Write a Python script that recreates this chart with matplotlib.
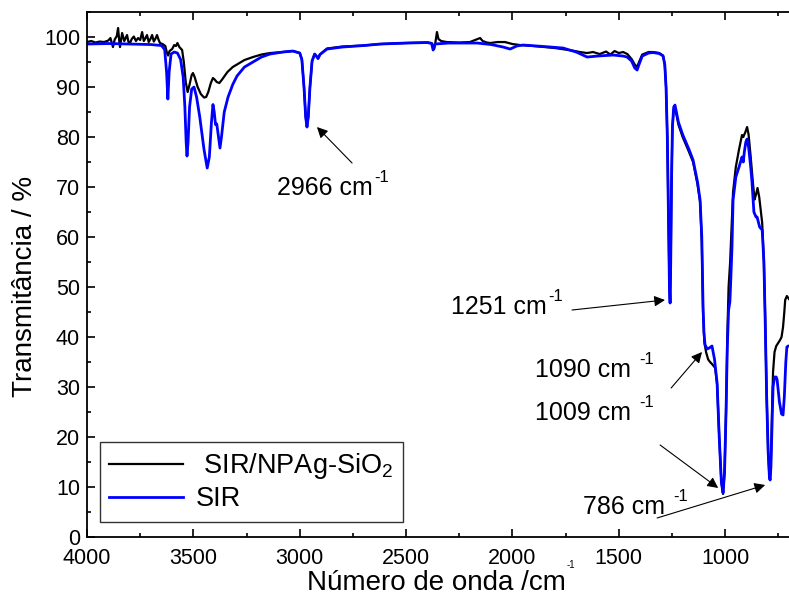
import matplotlib
matplotlib.use("Agg")
import matplotlib.pyplot as plt
from matplotlib.ticker import MultipleLocator

plt.rcParams['font.family'] = ['Liberation Sans', 'DejaVu Sans']
plt.rcParams['mathtext.fontset'] = 'custom'
plt.rcParams['mathtext.rm'] = 'Liberation Sans'
plt.rcParams['mathtext.it'] = 'Liberation Sans:italic'

# espectro SIR/NPAg-SiO2 (preto)
black_wn = [4000, 3980, 3960, 3940, 3920, 3900, 3890, 3878, 3870, 3860, 3854, 3848, 3845, 3835,
            3825, 3812, 3805, 3798, 3790, 3780, 3770, 3760, 3750, 3741, 3733, 3725, 3718, 3710,
            3702, 3694, 3686, 3678, 3671, 3664, 3657, 3645, 3632, 3624, 3619, 3612, 3600, 3590,
            3582, 3575, 3566, 3553, 3545, 3536, 3527, 3518, 3508, 3502, 3494, 3480, 3465, 3450,
            3440, 3430, 3418, 3408, 3400, 3390, 3378, 3365, 3340, 3315, 3295, 3260, 3220, 3180,
            3140, 3080, 3032, 3000, 2990, 2980, 2972, 2966, 2960, 2952, 2942, 2930, 2922, 2914,
            2905, 2872, 2800, 2700, 2622, 2500, 2400, 2380, 2368, 2362, 2355, 2348, 2335, 2310,
            2250, 2200, 2165, 2152, 2140, 2120, 2105, 2070, 2035, 2000, 1964, 1900, 1800, 1720,
            1682, 1650, 1621, 1590, 1560, 1540, 1520, 1500, 1480, 1460, 1440, 1425, 1414, 1405,
            1390, 1360, 1339, 1310, 1292, 1284, 1278, 1272, 1266, 1262, 1259, 1256, 1252, 1248,
            1242, 1236, 1220, 1200, 1170, 1151, 1130, 1118, 1110, 1104, 1098, 1090, 1080, 1071,
            1060, 1047, 1038, 1028, 1018, 1010, 1003, 996, 990, 984, 977, 970, 963, 950, 935,
            921, 915, 905, 897, 890, 880, 870, 862, 855, 848, 840, 832, 826, 818, 812, 805, 798,
            792, 789, 785, 780, 775, 768, 760, 751, 742, 735, 728, 722, 718, 710, 700]
black_t = [99.0, 99.2, 98.9, 99.1, 99.0, 99.3, 99.8, 98.0, 99.5, 100.2, 101.8, 99.0, 98.0, 100.8,
           99.2, 100.4, 99.0, 98.8, 99.6, 100.1, 99.2, 99.8, 99.4, 101.0, 99.2, 99.8, 100.4, 99.0,
           99.6, 100.4, 99.1, 99.7, 100.4, 99.5, 98.8, 98.6, 98.2, 96.8, 96.3, 97.2, 97.6, 98.4,
           98.2, 98.8, 98.0, 97.4, 95.0, 91.0, 89.0, 90.5, 92.4, 92.8, 92.0, 90.0, 88.6, 87.9,
           88.0, 89.0, 90.8, 91.8, 91.5, 91.0, 90.8, 91.5, 93.0, 94.0, 94.5, 95.4, 96.0, 96.5,
           96.8, 97.0, 97.2, 96.8, 95.5, 90.0, 84.0, 82.0, 84.0, 90.0, 95.2, 96.6, 96.2, 95.7,
           96.5, 97.7, 98.1, 98.3, 98.6, 98.8, 98.9, 98.8, 97.6, 99.0, 101.0, 99.6, 99.2, 99.0,
           98.9, 99.0, 99.6, 99.8, 99.2, 98.9, 98.8, 99.0, 99.0, 98.6, 98.4, 98.2, 97.8, 97.3,
           97.0, 96.8, 97.0, 96.6, 97.1, 96.5, 97.2, 96.8, 97.0, 96.6, 95.6, 94.5, 94.0, 95.0,
           96.5, 97.0, 97.0, 96.8, 96.3, 94.5, 90.0, 80.0, 62.0, 50.0, 46.8, 55.0, 72.0, 82.0,
           85.5, 86.0, 82.5, 80.0, 77.0, 75.0, 70.5, 67.0, 59.0, 45.0, 39.0, 37.0, 35.5, 35.0,
           34.5, 33.8, 30.5, 20.0, 11.0, 8.6, 13.0, 25.0, 40.0, 50.0, 54.8, 62.0, 69.0, 74.0, 77.5,
           80.4, 80.0, 81.0, 82.0, 80.5, 76.0, 71.0, 67.5, 68.5, 69.8, 68.0, 65.0, 62.8, 55.0, 44.0,
           28.0, 17.0, 12.0, 11.4, 15.0, 25.0, 33.0, 37.0, 38.2, 38.8, 39.4, 40.0, 42.0, 45.0,
           47.4, 48.2, 47.6]

# espectro SIR (azul)
blue_wn = [4000, 3900, 3800, 3700, 3650, 3635, 3626, 3620, 3614, 3605, 3590, 3575, 3560, 3548,
           3540, 3534, 3530, 3525, 3518, 3508, 3497, 3485, 3470, 3450, 3435, 3425, 3415, 3408,
           3402, 3396, 3390, 3382, 3375, 3368, 3355, 3337, 3315, 3295, 3260, 3220, 3180, 3140,
           3080, 3032, 3000, 2990, 2980, 2972, 2966, 2960, 2952, 2942, 2930, 2922, 2914, 2905,
           2872, 2800, 2700, 2622, 2500, 2400, 2380, 2373, 2365, 2300, 2166, 2100, 2044, 2011,
           1980, 1950, 1850, 1762, 1700, 1660, 1649, 1600, 1527, 1480, 1461, 1440, 1425, 1414,
           1405, 1390, 1360, 1339, 1310, 1292, 1284, 1278, 1272, 1266, 1262, 1259, 1256, 1252,
           1248, 1242, 1236, 1220, 1200, 1170, 1151, 1130, 1118, 1110, 1104, 1100, 1095, 1085,
           1075, 1062, 1050, 1038, 1028, 1018, 1010, 1003, 996, 990, 984, 978, 975, 968, 963,
           950, 935, 921, 915, 910, 903, 897, 890, 880, 874, 865, 855, 850, 838, 826, 818, 812,
           805, 798, 792, 789, 785, 780, 775, 768, 760, 756, 745, 735, 728, 722, 715, 710, 704, 700]
blue_t = [98.6, 98.7, 98.6, 98.5, 98.3, 97.5, 93.0, 87.6, 93.0, 96.6, 97.0, 96.8, 95.5, 92.0,
          86.0, 79.0, 76.2, 79.0, 86.0, 89.6, 90.0, 88.0, 84.0, 77.5, 73.8, 76.0, 83.0, 86.5,
          85.0, 82.5, 82.6, 80.0, 77.8, 80.0, 85.0, 88.0, 90.5, 92.2, 94.0, 95.0, 96.0, 96.6,
          97.0, 97.2, 96.8, 95.5, 90.0, 84.0, 82.0, 84.0, 90.0, 95.2, 96.6, 96.2, 95.7, 96.5,
          97.6, 98.0, 98.3, 98.6, 98.8, 98.9, 98.7, 97.4, 98.6, 98.8, 98.8, 98.5, 98.0, 97.6,
          98.2, 98.4, 98.1, 97.8, 97.0, 96.2, 96.0, 96.2, 96.4, 96.2, 96.0, 95.2, 93.8, 93.4,
          94.5, 96.2, 96.8, 96.9, 96.7, 96.2, 94.5, 90.0, 80.0, 62.0, 50.0, 46.8, 55.0, 72.0,
          82.0, 86.0, 86.4, 83.0, 80.5, 77.5, 75.4, 71.0, 67.4, 60.0, 46.0, 41.0, 38.5, 37.6,
          37.8, 38.2, 35.5, 30.8, 20.0, 11.0, 8.8, 13.0, 25.0, 38.0, 45.4, 47.0, 50.0, 58.0, 67.4,
          72.0, 74.0, 76.0, 75.0, 77.0, 79.0, 79.6, 78.0, 74.0, 71.0, 65.0, 64.0, 64.0, 62.0,
          61.4, 55.0, 43.4, 28.0, 17.0, 12.0, 11.4, 14.0, 22.0, 30.0, 32.0, 32.0, 31.5, 27.0,
          24.6, 24.4, 28.0, 35.0, 38.0, 38.2, 38.2]

series_labels = [' SIR/NPAg-SiO$_2$', 'SIR']


def peak_label(ax, x, y, texto, gap=''):
    # texto principal + expoente "-1" com hífen normal
    t = ax.text(x, y, texto + ' cm' + gap, fontsize=18)
    ax.annotate('-1', xy=(1, 0.95), xycoords=t, xytext=(1, 0), textcoords='offset points',
                ha='left', va='center', fontsize=12)


fig = plt.figure(figsize=(7.89, 6.02), dpi=100)
ax = fig.add_axes([0.1103, 0.108, 0.8897, 0.872])

ax.plot(black_wn, black_t, color='black', lw=1.6, label=series_labels[0])
ax.plot(blue_wn, blue_t, color='#0000ff', lw=2.0, label=series_labels[1])

ax.set_xlim(4000, 700)
ax.set_ylim(0, 105)
ax.xaxis.set_major_locator(MultipleLocator(500))
ax.xaxis.set_minor_locator(MultipleLocator(250))
ax.yaxis.set_major_locator(MultipleLocator(10))
ax.yaxis.set_minor_locator(MultipleLocator(5))
ax.tick_params(which='both', direction='in', top=True, right=False, labelsize=15.5, width=1.2)
ax.tick_params(which='major', length=6)
ax.tick_params(which='minor', length=3)
ax.tick_params(axis='x', pad=8)
ax.tick_params(axis='y', pad=5)
for side in ['left', 'bottom', 'top']:
    ax.spines[side].set_linewidth(1.3)
ax.spines['right'].set_visible(False)

arrow = dict(arrowstyle='-|>', color='black', lw=0.8, mutation_scale=16, shrinkA=0, shrinkB=0)
ax.annotate('', xy=(2919, 82), xytext=(2754, 74.8), arrowprops=arrow)
ax.annotate('', xy=(1283, 47.4), xytext=(1720, 45.4), arrowprops=arrow)
ax.annotate('', xy=(1109, 37), xytext=(1254, 29.8), arrowprops=arrow)
ax.annotate('', xy=(1033, 9.8), xytext=(1306, 18.4), arrowprops=arrow)
ax.annotate('', xy=(812, 10.4), xytext=(1320, 3.8), arrowprops=arrow)

peak_label(ax, 3107, 68.4, '2966')
peak_label(ax, 2289, 44.6, '1251')
peak_label(ax, 1894, 32.0, '1090', ' ')
peak_label(ax, 1894, 23.4, '1009', ' ')
peak_label(ax, 1668, 4.6, '786', ' ')

leg = ax.legend(loc='lower left', bbox_to_anchor=(0.0185, 0.0286), borderaxespad=0,
                fontsize=19.5, frameon=True, fancybox=False, handlelength=2.7,
                handletextpad=0.5, borderpad=0.35, labelspacing=0.2)
leg.get_frame().set_edgecolor('black')
leg.get_frame().set_linewidth(1.0)

fig.text(0.032, 0.525, 'Transmitância / %', rotation=90, ha='center', va='center', fontsize=20)
fig.text(0.553, 0.032, 'Número de onda /cm', ha='center', va='center', fontsize=20)
fig.text(0.724, 0.061, '-1', ha='center', va='center', fontsize=7)

fig.savefig('out.png', dpi=100)
